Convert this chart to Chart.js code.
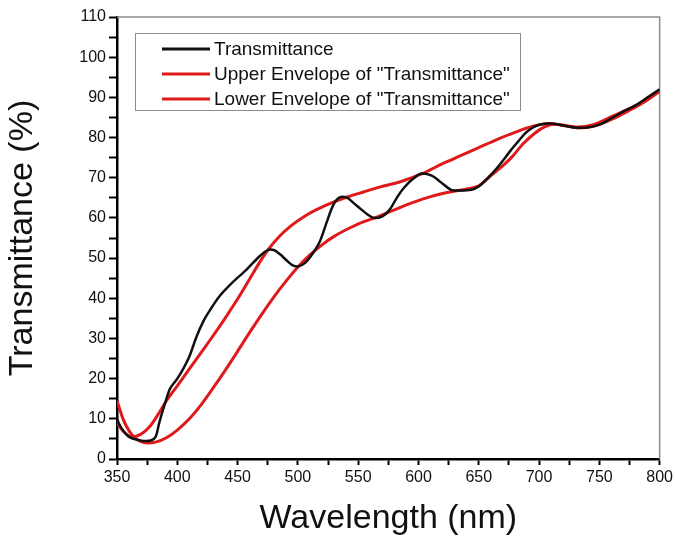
<!DOCTYPE html>
<html lang="en">
<head>
  <meta charset="UTF-8">
  <title>Transmittance Envelopes</title>
  <script src="https://cdn.jsdelivr.net/npm/chart.js"></script>
  <style>
    body {
      margin: 0;
      background-color: #ffffff;
    }
    .chart-container {
      width: 676px;
      height: 540px;
    }
  </style>
</head>
<body>
  <div class="chart-container">
    <canvas id="transChart" width="676" height="540"></canvas>
  </div>

  <script>
    // measured transmittance (nm, %)
    const transWl = [350, 353, 358, 362, 367, 372, 378, 382, 385, 390, 394, 400, 405, 410, 416, 422, 427, 435, 446, 457,
      468, 475, 480, 485, 490, 495, 500, 506, 512, 518, 524, 529, 534, 541, 547, 553, 558, 563, 570, 576,
      582, 588, 595, 602, 611, 618, 627, 635, 644, 650, 656, 661, 668, 677, 684, 689, 695, 700, 710, 720,
      730, 740, 750, 760, 770, 780, 790, 800];
    const transT = [10, 8, 6, 5.2, 4.8, 4.5, 4.6, 5.5, 9, 14, 17.5, 20, 22.5, 25.5, 30.5, 34.5, 37, 40.5, 44, 47,
      50.4, 52, 52, 51, 49.6, 48.3, 47.9, 48.8, 51, 54, 59, 63, 65, 65, 63.5, 62, 60.8, 60, 60.4, 62,
      65, 67.5, 69.6, 71, 70.5, 69, 67, 66.8, 67, 67.8, 69.5, 71, 73.5, 77, 79.5, 81.2, 82.5, 83.2, 83.5, 83,
      82.5, 82.5, 83.2, 84.8, 86.5, 88, 90, 92];

    // upper envelope
    const upperWl = [350, 355, 362, 370, 377, 385, 391, 400, 410, 420, 430, 440, 450, 460, 468, 475, 485, 495, 505, 515,
      530, 541, 555, 567, 585, 603, 620, 635, 650, 665, 680, 695, 708, 720, 732, 745, 760, 775, 788, 800];
    const upperT = [9, 7, 5.5, 6.2, 8, 11.5, 14.5, 18.2, 22.4, 26.6, 30.8, 35.2, 39.8, 44.8, 48.8, 52, 55.5, 58.2, 60.3, 62,
      64, 65.2, 66.5, 67.6, 69, 71, 73.5, 75.5, 77.5, 79.5, 81.3, 82.8, 83.5, 83, 82.6, 83.2, 85.2, 87.2, 89.2, 91.8];

    // lower envelope
    const lowerWl = [350, 355, 360, 365, 370, 375, 382, 391, 400, 410, 420, 430, 440, 450, 460, 470, 480, 490, 500, 510,
      520, 530, 545, 556, 567, 580, 595, 610, 627, 640, 650, 660, 670, 677, 687, 697, 705, 713, 722, 732,
      745, 760, 775, 788, 800];
    const lowerT = [14.5, 10, 7, 5.2, 4.3, 4, 4.2, 5.3, 7.2, 10, 13.6, 17.8, 22.2, 26.8, 31.5, 36, 40.3, 44.2, 47.8, 50.8,
      53.3, 55.4, 57.8, 59.2, 60.4, 62, 63.8, 65.3, 66.5, 67.2, 68, 70.5, 73, 75, 78.5, 81.2, 82.7, 83.3, 83, 82.4,
      82.8, 84.5, 86.8, 89, 91.5];

    const seriesNames = ['Transmittance', 'Upper Envelope of "Transmittance"', 'Lower Envelope of "Transmittance"'];
    const seriesColors = ['#111111', '#e01a1a', '#e01a1a'];

    function toPoints(xs, ys) {
      return xs.map((x, i) => ({ x: x, y: ys[i] }));
    }

    // thin grey frame on top/right, legend box in upper-left
    const framePlugin = {
      id: 'frame',
      beforeDatasetsDraw(chart) {
        const { ctx, chartArea: a } = chart;
        ctx.save();
        ctx.strokeStyle = '#8c8c8c';
        ctx.lineWidth = 1.5;
        ctx.beginPath();
        ctx.moveTo(a.left, a.top);
        ctx.lineTo(a.right, a.top);
        ctx.lineTo(a.right, a.bottom);
        ctx.stroke();
        ctx.restore();
      },
      afterDatasetsDraw(chart) {
        const ctx = chart.ctx;
        const bx = 135, by = 33, bw = 385, bh = 77;
        ctx.save();
        ctx.fillStyle = '#ffffff';
        ctx.fillRect(bx, by, bw, bh);
        ctx.strokeStyle = '#8c8c8c';
        ctx.lineWidth = 1;
        ctx.strokeRect(bx + 0.5, by + 0.5, bw, bh);
        ctx.font = '19px "Liberation Sans", Arial, sans-serif';
        ctx.textBaseline = 'middle';
        chart.data.datasets.forEach((ds, i) => {
          const y = by + 16 + i * 25;
          ctx.strokeStyle = ds.borderColor;
          ctx.lineWidth = 3;
          ctx.beginPath();
          ctx.moveTo(162, y);
          ctx.lineTo(210, y);
          ctx.stroke();
          ctx.fillStyle = '#111111';
          ctx.fillText(ds.label, 214, y + 1);
        });
        ctx.restore();
      }
    };

    const ctx = document.getElementById('transChart').getContext('2d');

    const transChart = new Chart(ctx, {
      type: 'line',
      data: {
        datasets: [
          {
            label: seriesNames[0],
            data: toPoints(transWl, transT),
            borderColor: seriesColors[0],
            borderWidth: 2.5,
            pointRadius: 0,
            tension: 0.3
          },
          {
            label: seriesNames[1],
            data: toPoints(upperWl, upperT),
            borderColor: seriesColors[1],
            borderWidth: 3,
            pointRadius: 0,
            cubicInterpolationMode: 'monotone'
          },
          {
            label: seriesNames[2],
            data: toPoints(lowerWl, lowerT),
            borderColor: seriesColors[2],
            borderWidth: 3,
            pointRadius: 0,
            cubicInterpolationMode: 'monotone'
          }
        ]
      },
      options: {
        responsive: false,
        animation: false,
        layout: {
          padding: { top: 17, right: 14, left: 0, bottom: 0 }
        },
        plugins: {
          legend: { display: false },
          tooltip: { enabled: false }
        },
        scales: {
          x: {
            type: 'linear',
            min: 350,
            max: 800,
            border: { color: '#000000', width: 2.5 },
            grid: { drawOnChartArea: false, tickLength: 6, tickColor: '#000000', tickWidth: 2 },
            ticks: {
              stepSize: 25,
              autoSkip: false,
              maxRotation: 0,
              padding: 3,
              color: '#111111',
              font: { family: '"Liberation Sans", Arial, sans-serif', size: 16 },
              callback: (v) => (v % 50 === 0 ? v : '')
            },
            title: {
              display: true,
              text: 'Wavelength (nm)',
              color: '#111111',
              font: { family: '"Liberation Sans", Arial, sans-serif', size: 34 },
              padding: { top: 0, bottom: 1 }
            },
            afterFit: (scale) => { scale.height = 81; }
          },
          y: {
            min: 0,
            max: 110,
            border: { color: '#000000', width: 2.5 },
            grid: { drawOnChartArea: false, tickLength: 8, tickColor: '#000000', tickWidth: 2 },
            ticks: {
              stepSize: 5,
              autoSkip: false,
              padding: 3,
              color: '#111111',
              font: { family: '"Liberation Sans", Arial, sans-serif', size: 16 },
              callback: (v) => (v % 10 === 0 ? v : '')
            },
            title: {
              display: true,
              text: 'Transmittance (%)',
              color: '#111111',
              font: { family: '"Liberation Sans", Arial, sans-serif', size: 34 },
              padding: { top: 2, bottom: 0 }
            },
            afterFit: (scale) => { scale.width = 117; }
          }
        }
      },
      plugins: [framePlugin]
    });
  </script>
</body>
</html>
